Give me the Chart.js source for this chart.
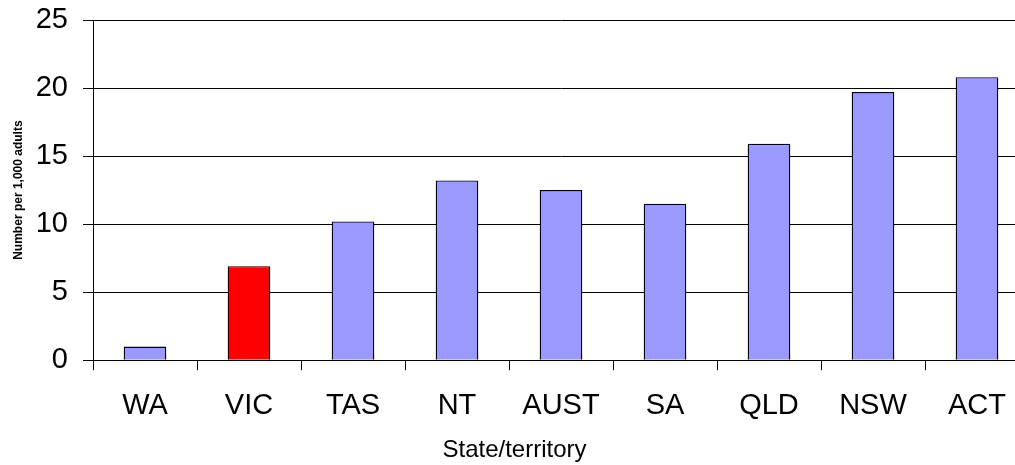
<!DOCTYPE html>
<html>
<head>
<meta charset="utf-8">
<script src="https://cdn.jsdelivr.net/npm/chart.js@4"></script>
<style>
  html, body { margin: 0; padding: 0; background: #fff; }
  /* the plot runs past the right edge of the picture, so the canvas is wider and clipped */
  #wrap { width: 1015px; height: 465px; overflow: hidden; }
</style>
</head>
<body>
<div id="wrap"><canvas id="myChart" width="1045" height="465"></canvas></div>
<script>
// data
const states = ['WA', 'VIC', 'TAS', 'NT', 'AUST', 'SA', 'QLD', 'NSW', 'ACT'];
const ratePer1000 = [1.0, 6.9, 10.2, 13.2, 12.5, 11.5, 15.9, 19.7, 20.8];
const barColours = ['#9999FF', '#FF0000', '#9999FF', '#9999FF', '#9999FF', '#9999FF', '#9999FF', '#9999FF', '#9999FF'];

const fontFamily = '"Liberation Sans", Arial, sans-serif';

const ctx = document.getElementById('myChart').getContext('2d');
const myChart = new Chart(ctx, {
    type: 'bar',
    data: {
        labels: states,
        datasets: [{
            data: ratePer1000,
            backgroundColor: barColours,
            borderColor: '#000',
            borderWidth: 1.3,
            barPercentage: 0.41,
            categoryPercentage: 1.0
        }]
    },
    options: {
        responsive: false,
        animation: false,
        layout: { padding: { top: 0, right: 16, left: 0, bottom: 0 } },
        plugins: {
            legend: { display: false },
            tooltip: { enabled: false },
            // x axis title drawn as chart title so it centres on the whole picture
            title: {
                display: true,
                position: 'bottom',
                text: 'State/territory',
                color: '#000',
                font: { family: fontFamily, size: 24, weight: 'normal' },
                padding: { top: 0, bottom: 0 }
            }
        },
        scales: {
            x: {
                // fixed height so the axis line sits where the reference has it
                afterFit: function(scale) {
                    scale.height = 76;
                },
                grid: {
                    offset: true,
                    drawOnChartArea: false,
                    drawTicks: true,
                    tickLength: 10,
                    color: '#000'
                },
                border: { color: '#000', width: 1 },
                ticks: {
                    color: '#000',
                    font: { family: fontFamily, size: 29 },
                    padding: 18,
                    maxRotation: 0
                }
            },
            y: {
                min: 0,
                max: 25,
                afterFit: function(scale) {
                    scale.width = 93;
                    scale.paddingTop = 20;
                    scale.paddingBottom = 0;
                },
                grid: {
                    color: '#000',
                    lineWidth: 1,
                    drawTicks: true,
                    tickLength: 10
                },
                border: { color: '#000', width: 1 },
                ticks: {
                    stepSize: 5,
                    color: '#000',
                    font: { family: fontFamily, size: 29 },
                    padding: 15
                },
                title: {
                    display: true,
                    text: 'Number per 1,000 adults',
                    color: '#000',
                    font: { family: fontFamily, size: 12, weight: 'bold' },
                    padding: { top: 11, bottom: 10 }
                }
            }
        }
    }
});
</script>
</body>
</html>
